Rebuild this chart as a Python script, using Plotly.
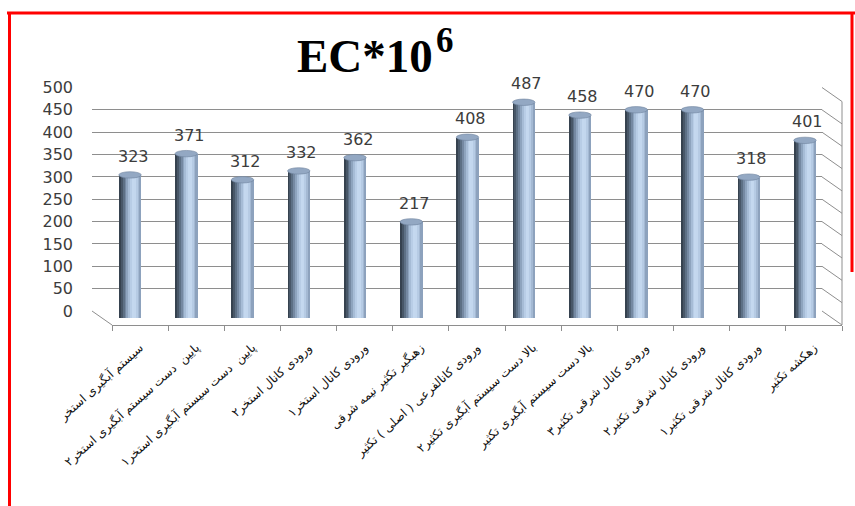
import plotly.graph_objects as go

# Sampling points (Persian labels) and measured EC*10^6 values
categories = [
    "سیستم آبگیری استخر",
    "پایین  دست سیستم آبگیری استخر۲",
    "پایین  دست سیستم آبگیری استخر۱",
    "ورودی کانال استخر۲",
    "ورودی کانال استخر۱",
    "زهبگیر تکثیر نیمه شرقی",
    "ورودی کانالفرعی ( اصلی ) تکثیر",
    "بالا دست سیستم آبگیری تکثیر۲",
    "بالا دست سیستم آبگیری تکثیر",
    "ورودی کانال شرقی تکثیر۳",
    "ورودی کانال شرقی تکثیر۲",
    "ورودی کانال شرقی تکثیر۱",
    "زهکشه تکثیر",
]
ec_values = [323, 371, 312, 332, 362, 217, 408, 487, 458, 470, 470, 318, 401]
y_ticks = list(range(0, 501, 50))

W, H = 855, 506


def px(x):
    return x / W


def py(y):
    return 1 - y / H


# geometry of the pseudo-3D box (pixels)
GRID_X0, GRID_X1 = 92, 822
GRID_Y0, GRID_Y500 = 311, 87.5
DX, DY = 20, 14
GRID_SCALE = (GRID_Y0 - GRID_Y500) / 500
BAR_Y0, BAR_SCALE = 318, 0.443
BAR_X0, BAR_X1 = 101.9, 833.1
FRONT_X0, FRONT_X1 = GRID_X0 + DX, GRID_X1 + DX
FRONT_Y = GRID_Y0 + DY

# cylinder shading, left (shadow) to right
shades = ["#36424f", "#485768", "#5d7085", "#7589a2", "#8ea4be", "#a6bcd6",
          "#b8cde6", "#c4d8ef", "#c3d7ee", "#b6cbe4", "#a4b9d3", "#8da2bd"]
BAR_W = 0.4
strip = BAR_W / len(shades)

fig = go.Figure()

# anchor trace for the back-wall grid subplot
fig.add_trace(go.Scatter(x=[0.5] * len(y_ticks), y=y_ticks, mode="markers",
                         marker=dict(opacity=0), hoverinfo="skip",
                         showlegend=False, xaxis="x", yaxis="y"))

# each shade layer runs from its own left edge to the right edge of the cylinder,
# so later layers cover earlier ones without seams
for i, c in enumerate(shades):
    fig.add_trace(go.Bar(
        x=categories, y=ec_values, xaxis="x2", yaxis="y2",
        width=BAR_W - i * strip, offset=-BAR_W / 2 + i * strip,
        marker=dict(color=c, line=dict(width=0)),
        hoverinfo="skip", showlegend=False,
    ))

# category labels along the front edge of the floor
fig.add_trace(go.Scatter(x=categories, y=ec_values, xaxis="x3", yaxis="y2",
                         mode="markers", marker=dict(opacity=0),
                         hoverinfo="skip", showlegend=False))

shapes = []
grid_col = "#8e8e8e"
# side wall and floor edges
for v in y_ticks:
    y = GRID_Y0 - v * GRID_SCALE
    shapes.append(dict(type="line", xref="paper", yref="paper", layer="below",
                       x0=px(GRID_X1), y0=py(y), x1=px(GRID_X1 + DX), y1=py(y + DY),
                       line=dict(color=grid_col, width=1)))
shapes.append(dict(type="line", xref="paper", yref="paper", layer="below",
                   x0=px(GRID_X1 + DX), y0=py(GRID_Y500 + DY),
                   x1=px(GRID_X1 + DX), y1=py(FRONT_Y),
                   line=dict(color=grid_col, width=1)))
shapes.append(dict(type="line", xref="paper", yref="paper", layer="below",
                   x0=px(GRID_X0), y0=py(GRID_Y0), x1=px(FRONT_X0), y1=py(FRONT_Y),
                   line=dict(color=grid_col, width=1)))

# elliptical caps on top of each cylinder
cap_half = 3.2 / BAR_SCALE
for i, v in enumerate(ec_values):
    shapes.append(dict(type="circle", xref="x2", yref="y2", layer="above",
                       x0=i - BAR_W / 2, x1=i + BAR_W / 2,
                       y0=v - cap_half, y1=v + cap_half,
                       fillcolor="#93a8c3", line=dict(color="#6f839d", width=0.6)))

# red frame
red = "#ff0000"
shapes.append(dict(type="line", xref="paper", yref="paper", x0=px(7), x1=1.0,
                   y0=py(13), y1=py(13), line=dict(color=red, width=3)))
shapes.append(dict(type="line", xref="paper", yref="paper", x0=px(9.5), x1=px(9.5),
                   y0=py(12), y1=0, line=dict(color=red, width=3)))
shapes.append(dict(type="line", xref="paper", yref="paper", x0=px(852), x1=px(852),
                   y0=py(12), y1=py(272), line=dict(color=red, width=3)))

annotations = []
for i, v in enumerate(ec_values):
    annotations.append(dict(xref="x2", yref="y2", x=i, y=v, text=str(v),
                            showarrow=False, yanchor="bottom", yshift=7, xshift=3,
                            font=dict(family="DejaVu Sans", size=16, color="#3c3c3c")))

# chart title: base and raised exponent placed side by side
annotations.append(dict(xref="paper", yref="paper", x=px(434), y=py(56),
                        xanchor="right", yanchor="middle", showarrow=False,
                        borderpad=0, text="<b>EC*10</b>",
                        font=dict(family="Liberation Serif", size=47, color="#000000")))
annotations.append(dict(xref="paper", yref="paper", x=px(435), y=py(41),
                        xanchor="left", yanchor="middle", showarrow=False,
                        borderpad=0, text="<b>6</b>",
                        font=dict(family="Liberation Serif", size=35, color="#000000")))

fig.update_layout(
    width=W, height=H,
    margin=dict(l=0, r=0, t=0, b=0, pad=0, autoexpand=False),
    paper_bgcolor="white", plot_bgcolor="rgba(0,0,0,0)",
    barmode="overlay", bargap=0,
    showlegend=False,
    xaxis=dict(domain=[px(GRID_X0), px(GRID_X1)], range=[0, 1], visible=False,
               fixedrange=True, automargin=False),
    yaxis=dict(domain=[py(GRID_Y0), py(GRID_Y500)], range=[0, 500],
               tickvals=y_ticks, showgrid=True, gridcolor=grid_col, gridwidth=1,
               zeroline=False, showline=False, ticks="", ticklabelstandoff=18,
               tickfont=dict(family="DejaVu Sans", size=16, color="#3c3c3c"),
               fixedrange=True, automargin=False),
    xaxis2=dict(domain=[px(BAR_X0), px(BAR_X1)], anchor="y2", type="category",
                range=[-0.5, len(categories) - 0.5], visible=False, fixedrange=True,
                automargin=False),
    yaxis2=dict(domain=[py(BAR_Y0), py(BAR_Y0 - 500 * BAR_SCALE)], anchor="x2",
                range=[0, 500], visible=False, fixedrange=True, automargin=False),
    xaxis3=dict(domain=[px(FRONT_X0), px(FRONT_X1)], anchor="free",
                position=py(FRONT_Y), type="category",
                range=[-0.5, len(categories) - 0.5],
                showline=True, linecolor=grid_col, linewidth=1,
                ticks="outside", ticklen=5, tickcolor=grid_col, tickson="boundaries",
                showgrid=False, zeroline=False, tickangle=-42, ticklabelstandoff=10,
                tickfont=dict(family="DejaVu Sans", size=12, color="#111111"),
                fixedrange=True, automargin=False),
    shapes=shapes,
    annotations=annotations,
)

fig.write_html("out.html")
